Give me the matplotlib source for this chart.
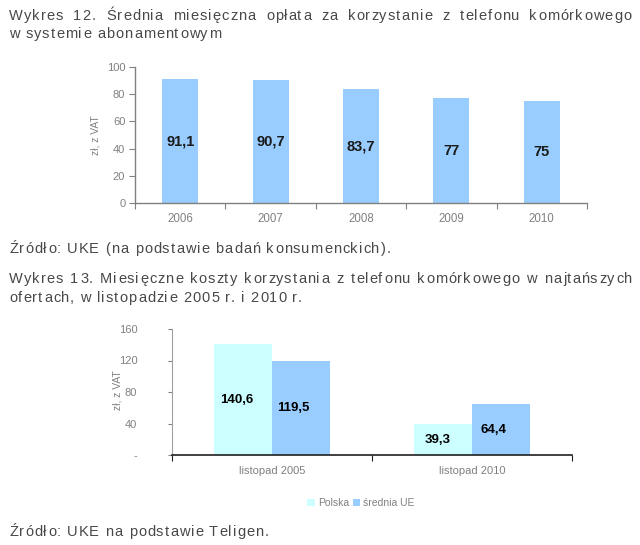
import matplotlib
matplotlib.use("Agg")
import matplotlib.pyplot as plt
from matplotlib.patches import Patch
from matplotlib.font_manager import FontProperties, findfont, get_font

plt.rcParams['font.family'] = ['Liberation Sans', 'DejaVu Sans']

# ---- data ----
years = ["2006", "2007", "2008", "2009", "2010"]
fee_values = [91.1, 90.7, 83.7, 77, 75]
fee_labels = ["91,1", "90,7", "83,7", "77", "75"]

periods = ["listopad 2005", "listopad 2010"]
series_names = ["Polska", "średnia UE"]
polska_values = [140.6, 39.3]
ue_values = [119.5, 64.4]
polska_labels = ["140,6", "39,3"]
ue_labels = ["119,5", "64,4"]

y1_ticks = [0, 20, 40, 60, 80, 100]
y2_ticks = [0, 40, 80, 120, 160]
y2_ticklabels = ["-", "40", "80", "120", "160"]

title1 = ["Wykres 12. Średnia miesięczna opłata za korzystanie z telefonu komórkowego",
          "w systemie abonamentowym"]
source1 = "Źródło: UKE (na podstawie badań konsumenckich)."
title2 = ["Wykres 13. Miesięczne koszty korzystania z telefonu komórkowego w najtańszych",
          "ofertach, w listopadzie 2005 r. i 2010 r."]
source2 = "Źródło: UKE na podstawie Teligen."

W, H = 640, 545
DPI = 100
fig = plt.figure(figsize=(W / DPI, H / DPI), dpi=DPI)
fig.patch.set_facecolor("white")

TXT = "#484848"
GRAY = "#808080"
BLUE = "#99CCFF"
CYAN = "#CCFFFF"
FS = 10.5
TRACK = 1.05  # px extra spacing between characters

def fy(py):
    return 1 - py / H

def fx(px):
    return px / W

ft = get_font(findfont(FontProperties(family="Liberation Sans")))
ft.set_size(FS, DPI)

def advance(c):
    g = ft.load_char(ord(c))
    return g.linearHoriAdvance / 65536.0

def spaced_line(text, py, x0=9, x1=None):
    advs = [advance(c) for c in text]
    n = len(text)
    nsp = text.count(" ")
    track = TRACK
    extra_space = 0.0
    if x1 is not None:
        rest = (x1 - x0) - sum(advs[:-1]) - track * (n - 1)
        extra_space = rest / nsp
    yb = fy(py + 5)
    x = x0
    for c, a in zip(text, advs):
        if c != " ":
            fig.text(fx(round(x)), yb, c, fontsize=FS, color=TXT,
                     va="baseline", ha="left")
        else:
            x += extra_space
        x += a + track

spaced_line(title1[0], 15, x1=631 - advance(title1[0][-1]))
spaced_line(title1[1], 33)
spaced_line(source1, 248)
spaced_line(title2[0], 278, x1=632 - advance(title2[0][-1]))
spaced_line(title2[1], 297)
spaced_line(source2, 531)

# ---- chart 1 ----
ax1 = fig.add_axes([fx(135), fy(203), (587 - 135) / W, (203 - 67) / H])
x1pos = [i + 0.5 for i in range(len(years))]
ax1.bar(x1pos, fee_values, width=0.4, color=BLUE, zorder=2)
for xp, v, lab in zip(x1pos, fee_values, fee_labels):
    ax1.text(xp, v / 2, lab, ha="center", va="center", fontsize=10.5,
             fontweight="bold", color="#1a1a1a")
ax1.set_xlim(0, len(years))
ax1.set_ylim(0, 100)
ax1.set_yticks(y1_ticks)
ax1.set_xticks(range(len(years) + 1))
ax1.set_xticklabels([])
ax1.set_xticks(x1pos, minor=True)
ax1.set_xticklabels(years, minor=True)
ax1.tick_params(axis="x", which="minor", length=0, pad=7, labelsize=8.3, labelcolor=GRAY)
ax1.tick_params(axis="x", which="major", length=4, color=GRAY)
ax1.tick_params(axis="y", length=4, color=GRAY, labelsize=8, labelcolor=GRAY, pad=3)
for s in ["top", "right"]:
    ax1.spines[s].set_visible(False)
for s in ["left", "bottom"]:
    ax1.spines[s].set_color(GRAY)
    ax1.spines[s].set_linewidth(1)
fig.text(fx(96), fy(135), "zł, z VAT", rotation=90, fontsize=7.5, color=GRAY,
         ha="center", va="center")

# ---- chart 2 ----
ax2 = fig.add_axes([fx(172), fy(455), (572 - 172) / W, (455 - 329) / H])
x2pos = [i + 0.5 for i in range(len(periods))]
bw = 0.288
ax2.bar([x - bw / 2 for x in x2pos], polska_values, width=bw, color=CYAN, zorder=2,
        label=series_names[0])
ax2.bar([x + bw / 2 for x in x2pos], ue_values, width=bw, color=BLUE, zorder=2,
        label=series_names[1])
for xp, v, lab in zip(x2pos, polska_values, polska_labels):
    ax2.text(xp - bw / 2 - 0.03, v / 2, lab, ha="center", va="center", fontsize=9.5,
             fontweight="bold", color="black")
for xp, v, lab in zip(x2pos, ue_values, ue_labels):
    ax2.text(xp + bw / 2 - 0.035, v / 2, lab, ha="center", va="center", fontsize=9.5,
             fontweight="bold", color="black")
ax2.set_xlim(0, len(periods))
ax2.set_ylim(0, 160)
ax2.set_yticks(y2_ticks)
ax2.set_yticklabels(y2_ticklabels)
ax2.set_xticks(range(len(periods) + 1))
ax2.set_xticklabels([])
ax2.set_xticks(x2pos, minor=True)
ax2.set_xticklabels(periods, minor=True)
ax2.tick_params(axis="x", which="minor", length=0, pad=8, labelsize=8, labelcolor=GRAY)
ax2.tick_params(axis="x", which="major", length=4, color="#202020")
ax2.tick_params(axis="y", length=3, color=GRAY, labelsize=8, labelcolor=GRAY, pad=22)
for s in ["top", "right"]:
    ax2.spines[s].set_visible(False)
ax2.spines["left"].set_color("#A0A0A0")
ax2.spines["bottom"].set_color("#202020")
ax2.spines["bottom"].set_linewidth(1.2)
fig.text(fx(118), fy(390), "zł, z VAT", rotation=90, fontsize=7.5, color=GRAY,
         ha="center", va="center")

handles = [Patch(facecolor=CYAN, edgecolor="none", label=series_names[0]),
           Patch(facecolor=BLUE, edgecolor="none", label=series_names[1])]
fig.legend(handles=handles, loc="center", bbox_to_anchor=(fx(361), fy(503)), ncol=2,
           frameon=False, fontsize=7.5, handlelength=0.7, handleheight=0.7,
           handletextpad=0.3, columnspacing=0.4, labelcolor=GRAY)

fig.savefig("out.png", dpi=DPI, facecolor="white")
